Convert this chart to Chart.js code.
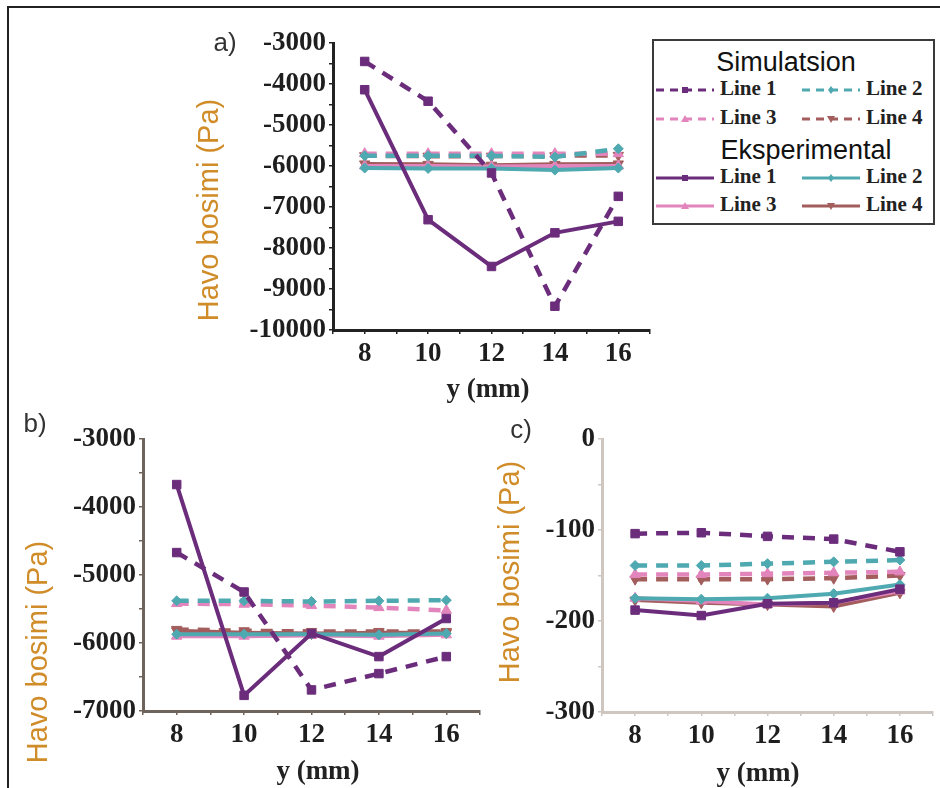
<!DOCTYPE html>
<html><head><meta charset="utf-8">
<script src="https://cdn.jsdelivr.net/npm/chart.js@4.4.1/dist/chart.umd.min.js"></script>
<style>
html,body{margin:0;padding:0;background:#fff;width:940px;height:788px;overflow:hidden;position:relative}
canvas{position:absolute;left:0;top:0}
.t{position:absolute;white-space:nowrap;transform:translate(-50%,-50%);line-height:1}
.yt{font-family:"Liberation Sans",Arial,sans-serif;font-size:29px;color:#d08c28;transform:translate(-50%,-50%) rotate(-90deg)}
.xt{font-family:"Liberation Serif",serif;font-weight:bold;font-size:27px;color:#222}
.pl{font-family:"Liberation Sans",sans-serif;font-size:26px;color:#333}
.lh{font-family:"Liberation Sans",sans-serif;font-size:27px;color:#111}
.li{position:absolute;font-family:"Liberation Serif",serif;font-weight:bold;font-size:21px;color:#222;line-height:1;transform:translateY(-50%);white-space:nowrap}
.ls{position:absolute}
#frameTop{position:absolute;left:7px;top:6px;width:933px;height:2px;background:#222}
#frameLeft{position:absolute;left:7px;top:6px;width:2px;height:782px;background:#222}
#legend{position:absolute;left:652px;top:39px;width:279px;height:182px;border:2px solid #3a3a3a;background:#fff}
</style></head><body>
<div id="frameTop"></div><div id="frameLeft"></div>
<canvas id="ca" width="940" height="788"></canvas>
<canvas id="cb" width="940" height="788"></canvas>
<canvas id="cc" width="940" height="788"></canvas>

<div class="t pl" style="left:225px;top:42px">a)</div>
<div class="t pl" style="left:35px;top:423px">b)</div>
<div class="t pl" style="left:521px;top:429px">c)</div>

<div class="t yt" style="left:208px;top:210px">Havo bosimi (Pa)</div>
<div class="t yt" style="left:37px;top:652px">Havo bosimi (Pa)</div>
<div class="t yt" style="left:509px;top:572px">Havo bosimi (Pa)</div>

<div class="t xt" style="left:488px;top:388px">y (mm)</div>
<div class="t xt" style="left:318px;top:770px">y (mm)</div>
<div class="t xt" style="left:758px;top:772px">y (mm)</div>

<div id="legend"></div>
<div id="legendItems"></div>

<script>
// ---------------- data ----------------
const xVals = [8, 10, 12, 14, 16];
const xTickLabels = [8, 10, 12, 14, 16];

const seriesNames = ["Line 1", "Line 2", "Line 3", "Line 4"];
const groupNames = ["Simulatsion", "Eksperimental"];

// panel a
const aYTicks = [-3000, -4000, -5000, -6000, -7000, -8000, -9000, -10000];
const aSim1 = [-3450, -4420, -6170, -9420, -6740];
const aSim2 = [-5750, -5750, -5750, -5780, -5580];
const aSim3 = [-5700, -5700, -5700, -5700, -5700];
const aSim4 = [-5750, -5760, -5760, -5750, -5740];
const aExp1 = [-4140, -7310, -8450, -7630, -7350];
const aExp2 = [-6050, -6060, -6060, -6100, -6050];
const aExp3 = [-6000, -6000, -6010, -6000, -6000];
const aExp4 = [-5950, -5960, -5980, -5960, -5950];

// panel b
const bYTicks = [-3000, -4000, -5000, -6000, -7000];
const bSim1 = [-4670, -5250, -6690, -6450, -6200];
const bSim2 = [-5380, -5380, -5390, -5380, -5370];
const bSim3 = [-5420, -5430, -5450, -5480, -5520];
const bSim4 = [-5800, -5820, -5830, -5830, -5830];
const bExp1 = [-3670, -6770, -5860, -6200, -5640];
const bExp2 = [-5870, -5870, -5870, -5880, -5860];
const bExp3 = [-5900, -5900, -5890, -5900, -5880];
const bExp4 = [-5820, -5850, -5860, -5850, -5850];

// panel c
const cYTicks = [0, -100, -200, -300];
const cSim1 = [-104, -103, -107, -110, -124];
const cSim2 = [-139, -139, -137, -135, -133];
const cSim3 = [-149, -149, -148, -147, -146];
const cSim4 = [-154, -154, -154, -153, -150];
const cExp1 = [-188, -194, -181, -180, -165];
const cExp2 = [-175, -176, -175, -170, -160];
const cExp3 = [-175, -178, -182, -180, -167];
const cExp4 = [-177, -180, -182, -184, -169];

// ---------------- styles ----------------
const colors = ["#6b2d7b", "#4fa9b0", "#e385bd", "#a35d5d"];
const pStyles = ["rect", "rectRot", "triangle", "triangle"];
const pRot = [0, 0, 0, 180];
const pRad = [6, 5, 6, 6];

function pts(vals) { return vals.map((v, i) => ({ x: xVals[i], y: v })); }

function buildSets(sims, exps) {
  const out = [];
  for (let i = 0; i < 4; i++) {
    out.push({
      label: groupNames[0] + " " + seriesNames[i], data: pts(sims[i]),
      borderColor: colors[i], backgroundColor: colors[i], borderWidth: 4.5,
      borderDash: [12, 9], pointStyle: pStyles[i], pointRotation: pRot[i],
      pointRadius: pRad[i], pointBorderWidth: 1, tension: 0
    });
    out.push({
      label: groupNames[1] + " " + seriesNames[i], data: pts(exps[i]),
      borderColor: colors[i], backgroundColor: colors[i], borderWidth: 4,
      pointStyle: pStyles[i], pointRotation: pRot[i],
      pointRadius: pRad[i], pointBorderWidth: 1, tension: 0
    });
  }
  return out;
}

const Y_W = 120, X_H = 50;

function makeChart(id, area, yMin, yMax, yStep, yTicks, axisColor, sims, exps) {
  const tickFont = { family: "'Liberation Serif', serif", size: 27, weight: "bold" };
  new Chart(document.getElementById(id), {
    type: "line",
    data: { datasets: buildSets(sims, exps) },
    options: {
      responsive: false, animation: false, devicePixelRatio: 1,
      layout: { padding: { left: area.l - Y_W, top: area.t, right: 940 - area.r, bottom: 788 - area.b - X_H } },
      plugins: { legend: { display: false }, tooltip: { enabled: false } },
      scales: {
        x: {
          type: "linear", min: 7, max: 17,
          afterFit: s => { s.height = X_H; },
          border: { display: true, color: axisColor, width: 3 },
          grid: { display: true, drawOnChartArea: false, drawTicks: true, tickLength: 4, color: axisColor, lineWidth: 1.5 },
          ticks: {
            stepSize: 1, autoSkip: false, maxRotation: 0, padding: 4, color: "#1e1e1e", font: tickFont,
            callback: v => xTickLabels.includes(v) ? String(v) : ""
          }
        },
        y: {
          type: "linear", min: yMin, max: yMax,
          afterFit: s => { s.width = Y_W; },
          border: { display: true, color: axisColor, width: 3 },
          grid: { display: true, drawOnChartArea: false, drawTicks: true, tickLength: 4, color: axisColor, lineWidth: 1.5 },
          ticks: {
            stepSize: yStep, autoSkip: false, padding: 3, color: "#1e1e1e", font: tickFont,
            callback: v => yTicks.includes(v) ? String(v) : ""
          }
        }
      }
    }
  });
}

makeChart("ca", { l: 333, t: 43, r: 650, b: 330 }, -10000, -3000, 500, aYTicks, "#222222",
  [aSim1, aSim2, aSim3, aSim4], [aExp1, aExp2, aExp3, aExp4]);
makeChart("cb", { l: 143, t: 439, r: 480, b: 711 }, -7000, -3000, 500, bYTicks, "#6e645c",
  [bSim1, bSim2, bSim3, bSim4], [bExp1, bExp2, bExp3, bExp4]);
makeChart("cc", { l: 602, t: 439, r: 940, b: 712 }, -300, 0, 50, cYTicks, "#cdc6c1",
  [cSim1, cSim2, cSim3, cSim4], [cExp1, cExp2, cExp3, cExp4]);

// ---------------- legend ----------------
(function () {
  const box = document.getElementById("legendItems");
  function header(txt, cx, cy) {
    const d = document.createElement("div");
    d.className = "t lh"; d.style.left = cx + "px"; d.style.top = cy + "px"; d.textContent = txt;
    box.appendChild(d);
  }
  function marker(i, cx, cy) {
    const c = colors[i];
    if (i === 0) return `<rect x="${cx-3}" y="${cy-3}" width="6" height="6" fill="${c}"/>`;
    if (i === 1) return `<path d="M${cx} ${cy-4} L${cx+3} ${cy} L${cx} ${cy+4} L${cx-3} ${cy} Z" fill="${c}"/>`;
    if (i === 2) return `<path d="M${cx} ${cy-4} L${cx+4} ${cy+3} L${cx-4} ${cy+3} Z" fill="${c}"/>`;
    return `<path d="M${cx} ${cy+4} L${cx+4} ${cy-3} L${cx-4} ${cy-3} Z" fill="${c}"/>`;
  }
  function item(i, dashed, x, cy) {
    const w = 58;
    const s = document.createElement("div");
    s.className = "ls"; s.style.left = x + "px"; s.style.top = (cy - 6) + "px";
    s.innerHTML = `<svg width="${w}" height="12"><line x1="0" y1="6" x2="${w}" y2="6" stroke="${colors[i]}" stroke-width="3" ${dashed ? 'stroke-dasharray="8 6"' : ''}/>${marker(i, w / 2, 6)}</svg>`;
    box.appendChild(s);
    const t = document.createElement("div");
    t.className = "li"; t.style.left = (x + 64) + "px"; t.style.top = cy + "px"; t.textContent = seriesNames[i];
    box.appendChild(t);
  }
  header(groupNames[0], 786, 62);
  item(0, true, 656, 88); item(1, true, 802, 88);
  item(2, true, 656, 117); item(3, true, 802, 117);
  header(groupNames[1], 806, 150);
  item(0, false, 656, 176); item(1, false, 802, 176);
  item(2, false, 656, 204); item(3, false, 802, 204);
})();
</script>
</body></html>
